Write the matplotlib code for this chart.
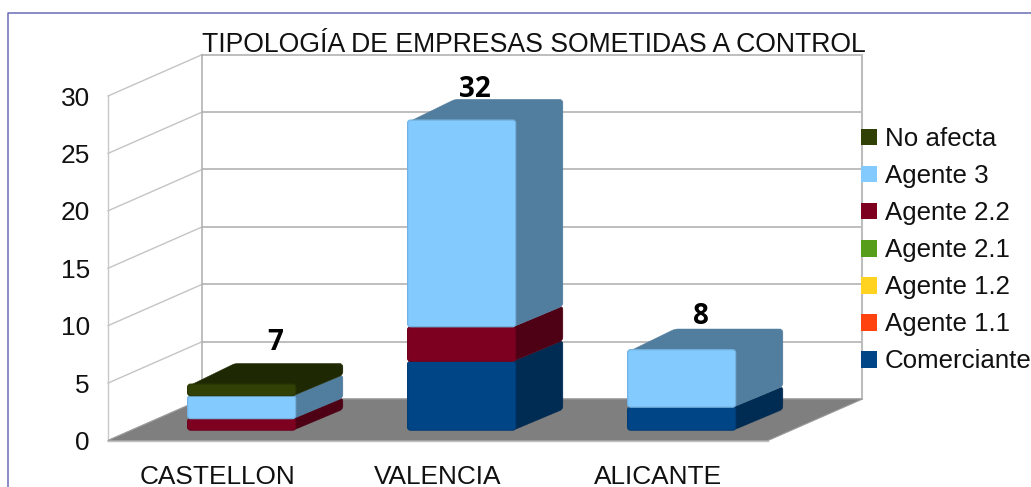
import matplotlib
matplotlib.use("Agg")
import matplotlib.pyplot as plt
from matplotlib.patches import Polygon, Patch, PathPatch
from matplotlib.path import Path
from matplotlib.lines import Line2D
import numpy as np

plt.rcParams['font.family'] = ['Liberation Sans', 'DejaVu Sans']

TITLE = "TIPOLOGÍA DE EMPRESAS SOMETIDAS A CONTROL"
categories = ["CASTELLON", "VALENCIA", "ALICANTE"]
yticks = [0, 5, 10, 15, 20, 25, 30]
series_names = ["Comerciante", "Agente 1.1", "Agente 1.2", "Agente 2.1", "Agente 2.2", "Agente 3", "No afecta"]
comerciante = [0, 6, 2]
agente_11 = [0, 0, 0]
agente_12 = [0, 0, 0]
agente_21 = [0, 0, 0]
agente_22 = [1, 3, 0]
agente_3 = [2, 18, 5]
no_afecta = [1, 0, 0]
total_labels = ["7", "32", "8"]
colors = ["#004586", "#FF420E", "#FFD320", "#579D1C", "#7E0021", "#83CAFF", "#314004"]
series = [comerciante, agente_11, agente_12, agente_21, agente_22, agente_3, no_afecta]

W, H = 1031, 487
fig = plt.figure(figsize=(W / 100, H / 100), dpi=100, facecolor="white")
L, R, B, T = 108, 768, 440.5, 96
ax = fig.add_axes([L / W, 1 - B / H, (R - L) / W, (B - T) / H])
ax.set_xlim(-0.5, 2.5)
ax.set_ylim(0, 30)
ax.patch.set_visible(False)
for s in ax.spines.values():
    s.set_visible(False)

# depth of the 3D box expressed in data units
DX = 94.5 / 220
DY = 41.5 / ((B - T) / 30)
x0, x1 = -0.5, 2.5
grid = "#b3b3b3"

# floor
ax.add_patch(Polygon([(x0, 0), (x1, 0), (x1 + DX, DY), (x0 + DX, DY)],
                     closed=True, fc="#7f7f7f", ec="#9a9a9a", lw=0.8, clip_on=False, zorder=1))
# walls / gridlines
for v in yticks:
    ax.plot([x0, x0 + DX], [v, v + DY], color="#c4c4c4", lw=1.0, clip_on=False, zorder=0.5)
    ax.plot([x0 + DX, x1 + DX], [v + DY, v + DY], color=grid, lw=1.2, clip_on=False, zorder=0.5)
ax.plot([x0, x0], [0, 30], color="#c8c8c8", lw=1.0, clip_on=False, zorder=0.5)
ax.plot([x0 + DX, x0 + DX], [DY, 30 + DY], color=grid, lw=1.2, clip_on=False, zorder=0.5)
ax.plot([x1 + DX, x1 + DX], [DY, 30 + DY], color="#bdbdbd", lw=1.5, clip_on=False, zorder=0.5)
ax.plot([x0, x1], [0, 0], color="#c0c0c0", lw=1.0, clip_on=False, zorder=1.1)


def shade(c, f):
    return tuple(np.array(matplotlib.colors.to_rgb(c)) * f)


def rounded(pts, r_px=3.0):
    """Closed path through pts (data coords) with corners rounded by r_px pixels."""
    sx = (R - L) / 3.0
    sy = (B - T) / 30.0
    pts = np.asarray(pts, float)
    verts, codes = [], []
    n = len(pts)
    for i in range(n):
        p, a, b = pts[i], pts[i - 1], pts[(i + 1) % n]
        va = (a - p) * (sx, sy)
        vb = (b - p) * (sx, sy)
        ra = min(r_px, np.hypot(*va) / 2.2)
        rb = min(r_px, np.hypot(*vb) / 2.2)
        pa = p + va / np.hypot(*va) * ra / (sx, sy)
        pb = p + vb / np.hypot(*vb) * rb / (sx, sy)
        verts.append(pa)
        codes.append(Path.MOVETO if i == 0 else Path.LINETO)
        verts += [p, pb]
        codes += [Path.CURVE3, Path.CURVE3]
    verts.append(verts[0])
    codes.append(Path.CLOSEPOLY)
    return Path(verts, codes)


BW = 108 / 220
z = 2
for i in range(len(categories)):
    base = 0.0
    xc = i + DX * 0.25
    yo = DY * 0.25
    xl, xr = xc - BW / 2, xc + BW / 2
    ddx, ddy = DX * 0.5, DY * 0.5
    nonzero = [k for k in range(len(series)) if series[k][i] > 0]
    for k in nonzero:
        v = series[k][i]
        c = colors[k]
        y0, y1 = yo + base, yo + base + v
        side = shade(c, 0.62)
        ax.add_patch(PathPatch(rounded([(xr - 0.01, y0), (xr + ddx, y0 + ddy), (xr + ddx, y1 + ddy), (xr - 0.01, y1)]),
                               fc=side, ec=side, lw=0.3, clip_on=False, zorder=z))
        z += 1
        if k == nonzero[-1]:
            ax.add_patch(PathPatch(rounded([(xl, y1 - 0.2), (xr, y1 - 0.2), (xr + ddx, y1 + ddy), (xl + ddx, y1 + ddy)]),
                                   fc=side, ec=side, lw=0.3, clip_on=False, zorder=z))
            z += 1
        ax.add_patch(PathPatch(rounded([(xl, y0), (xr, y0), (xr, y1), (xl, y1)]),
                               fc=c, ec=shade(c, 0.88), lw=0.9, clip_on=False, zorder=z))
        z += 1
        base += v

# totals above each stack
label_offsets = [(10, 21), (-10, 10), (-4, 12)]
totals = [sum(s[i] for s in series) for i in range(len(categories))]
for i, lab in enumerate(total_labels):
    ax.annotate(lab, xy=(i + DX * 0.5, totals[i] + DY * 0.75),
                xytext=label_offsets[i], textcoords="offset pixels",
                ha="center", va="center", fontsize=20, fontweight="bold",
                family=["Open Sans", "DejaVu Sans"], color="black", zorder=100)

fs = 18.9
# axis labels
ax.set_yticks(yticks)
ax.set_yticklabels([str(v) for v in yticks], fontsize=fs, color="#111111")
ax.set_xticks(range(len(categories)))
ax.set_xticklabels(categories, fontsize=fs, color="#111111")
ax.tick_params(axis="y", length=0, pad=13)
ax.tick_params(axis="x", length=0, pad=17.5)

fig.text(533.5 / W, 1 - 45.5 / H, TITLE, ha="center", va="center", fontsize=19.15, color="#111111")

# legend
lfs = 18.6
handles = [Patch(fc=colors[k], ec="none", label=series_names[k]) for k in range(len(series) - 1, -1, -1)]
px = lfs * 100 / 72
fig.legend(handles=handles, loc="upper left", bbox_to_anchor=(861 / W, 1 - 127 / H),
           fontsize=lfs, frameon=False, borderpad=0, borderaxespad=0,
           handlelength=16 / px, handleheight=16 / px, handletextpad=8 / px,
           labelspacing=(37.3 - 0.9375 * px) / px, labelcolor="#111111")

# page frame
fig.add_artist(Line2D([8.3 / W, 8.3 / W, 1], [0, 1 - 13.3 / H, 1 - 13.3 / H],
                      color="#6a6db5", lw=1.1, transform=fig.transFigure))

fig.savefig("out.png", dpi=100)
